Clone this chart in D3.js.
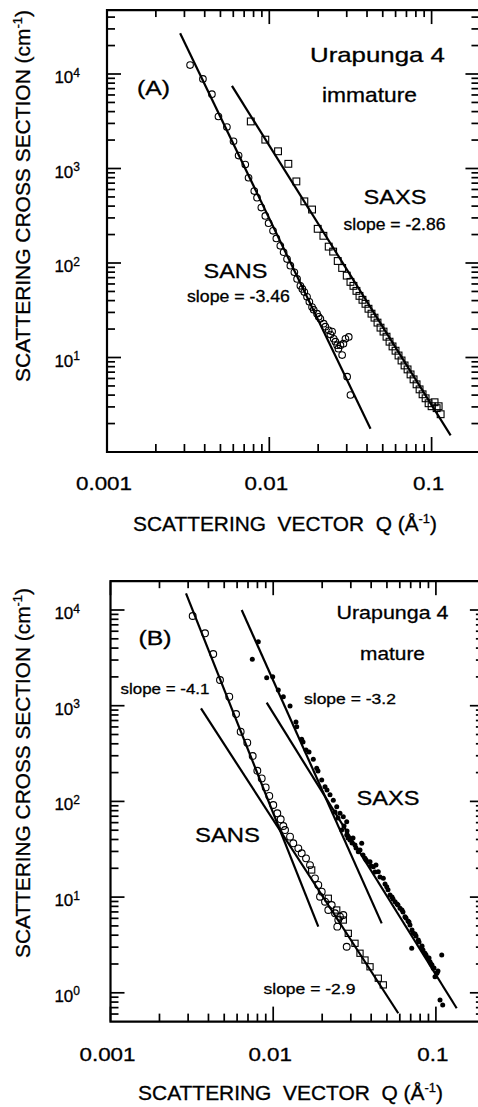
<!DOCTYPE html>
<html><head><meta charset="utf-8">
<script src="https://cdn.jsdelivr.net/npm/d3@7"></script>
<style>
html,body{margin:0;padding:0;background:#fff;}
svg{display:block;}
text{font-family:"Liberation Sans",Arial,Helvetica,sans-serif;fill:#000;stroke:#000;stroke-width:0.3px;}
</style></head><body>
<svg id="chart" width="478" height="1107"></svg>
<script>
// ---------- ticks & tick labels ----------
const xTickValues = [0.001, 0.01, 0.1];
const xTickLabels = ["0.001", "0.01", "0.1"];
const xMinorTicks = [0.002,0.003,0.004,0.005,0.006,0.007,0.008,0.009,
                     0.02,0.03,0.04,0.05,0.06,0.07,0.08,0.09];
const yMajorTicksA = [10, 100, 1000, 10000];
const yMinorTicksA = [2,3,4,5,6,7,8,9,20,30,40,50,60,70,80,90,200,300,400,500,600,700,800,900,
                      2000,3000,4000,5000,6000,7000,8000,9000,20000,30000,40000];
const yMajorTicksB = [1, 10, 100, 1000, 10000];
const yMinorTicksB = [0.6,0.7,0.8,0.9,2,3,4,5,6,7,8,9,20,30,40,50,60,70,80,90,200,300,400,500,600,700,800,900,
                      2000,3000,4000,5000,6000,7000,8000,9000];
const yExpA = [1, 2, 3, 4];
const yExpB = [0, 1, 2, 3, 4];
const yTitle = "SCATTERING CROSS SECTION (cm";
const xTitle = "SCATTERING  VECTOR  Q (Å";
const textsA = ["(A)", "Urapunga 4", "immature", "SAXS", "slope = -2.86", "SANS", "slope = -3.46"];
const textsB = ["(B)", "Urapunga 4", "mature", "slope = -4.1", "slope = -3.2", "SAXS", "SANS", "slope = -2.9"];

// ---------- panel A (immature) data: [Q (1/Å), I (1/cm)] ----------
const sansA = [
[0.00325,12440],[0.00390,8860],[0.00443,6110],[0.00486,3550],[0.00548,2750],[0.00602,1940],
[0.00647,1370],[0.00711,1100],[0.00745,798],[0.00808,577],[0.00840,491],[0.00893,386],
[0.00945,315],[0.00990,264],[0.01054,219],[0.01105,182],[0.01169,152],[0.01225,130],
[0.01286,110],[0.01348,93.7],[0.01427,79.8],[0.01483,67.9],[0.01554,57.3],[0.01598,53.2],
[0.01644,49.2],[0.01708,43.9],[0.01765,38.9],[0.01834,34.2],[0.01877,32.0],[0.01969,29.1],
[0.02015,27.0],[0.02064,25.7],[0.02163,22.8],[0.02216,21.2],[0.02323,19.4],[0.02380,17.5],
[0.02438,18.8],[0.02494,15.8],[0.02555,14.7],[0.02618,13.5],[0.02667,12.4],[0.02744,13.5],
[0.02811,10.6],[0.02945,15.8],[0.03087,16.5],[0.02862,14.0],[0.03017,6.26],[0.03162,4.01]
];
const saxsA = [
[0.00769,3147],[0.00945,2020],[0.01132,1521],[0.01310,1121],[0.01468,730],[0.01644,449],
[0.01834,368],[0.01987,230],[0.02154,194],[0.02323,149],[0.02474,132],[0.02640,105],
[0.02811,88.6],[0.03000,73.5],[0.03162,63.1],[0.03300,57.3],[0.03443,50.7],[0.03594,44.9],
[0.03750,40.8],[0.03914,37.0],[0.04084,32.8],[0.04263,29.1],[0.04448,26.4],[0.04642,23.4],
[0.04844,20.7],[0.05055,18.8],[0.05275,16.6],[0.05505,14.7],[0.05745,13.1],[0.05995,11.8],
[0.06256,10.5],[0.06528,9.30],[0.06813,8.24],[0.07110,7.48],[0.07419,6.62],[0.07743,5.87],
[0.08080,5.20],[0.08432,4.60],[0.08799,4.08],[0.09183,3.70],[0.09583,3.28],[0.1000,3.05],
[0.1043,3.36],[0.1074,2.91],[0.1137,2.51],[0.1105,3.05]
];
const sansFitA = [[0.002822,27020],[0.04203,1.759]];
const saxsFitA = [[0.005887,7475],[0.1310,1.499]];

// ---------- panel B (mature) data ----------
const sansCircB = [
[0.00320,8656],[0.00381,5707],[0.00428,3469],[0.00471,1855],[0.00537,1242],[0.00591,819],
[0.00631,535],[0.00693,411],[0.00748,298],[0.00799,209],[0.00850,174],[0.00899,140],
[0.00946,114],[0.01001,91.7],[0.01060,75.1],[0.01112,65.0],[0.01154,55.3],[0.01182,50.2],
[0.01269,42.8],[0.01329,36.5],[0.01427,32.3],[0.01497,28.7],[0.01591,25.4],[0.01683,21.6],
[0.01806,15.7],[0.01893,13.4],[0.01987,11.4],[0.01940,10.1],[0.02082,8.95],[0.02181,7.33],
[0.02288,8.27],[0.02398,6.77],[0.02512,5.76],[0.02573,6.24],[0.02697,6.50],[0.02477,4.91],
[0.02830,3.03]
];
const sansSqB = [
[0.01724,19.2],[0.02181,9.72],[0.02457,7.33],[0.02697,5.76],[0.02894,4.18],[0.03182,3.29],
[0.03416,2.59],[0.03666,2.20],[0.03936,1.87],[0.04426,1.42],[0.04751,1.21]
];
const saxsB = [
[0.00810,4666],[0.00744,3053],[0.00912,1962],[0.00993,2009],[0.01075,1459],[0.01154,1242],
[0.01269,993],[0.01395,604],[0.01497,446],[0.01591,344],[0.01764,275],[0.01851,222],
[0.01987,167],[0.02082,142],[0.02234,117],[0.02341,103],[0.02457,88.0],[0.02573,75.1],
[0.02697,69.2],[0.02830,61.4],[0.02636,50.2],[0.02830,44.6],[0.02965,39.5],[0.03182,35.0],
[0.03499,36.5],[0.03334,29.8],[0.03666,25.4],[0.03936,23.4],[0.04124,20.8],[0.04426,18.4],
[0.04751,15.7],[0.04985,12.8],[0.05224,10.5],[0.05607,8.95],[0.06017,7.64],[0.06457,6.24],
[0.06930,5.11],[0.07263,4.18],[0.07101,2.92],[0.07796,3.56],[0.08180,3.03],[0.08570,2.59],
[0.09198,2.11],[0.09638,1.80],[0.1011,1.60],[0.09874,1.47],[0.1086,2.48],[0.1060,0.841],
[0.1101,0.746],[0.02882,41.5],[0.03051,36.7],[0.03564,27.5],[0.03826,23.3],[0.04283,21.6],
[0.05077,11.9],[0.05373,10.0],[0.05848,8.27],[0.06277,6.99],[0.06736,5.63],[0.07546,3.92],
[0.08331,2.80],[0.08941,2.31],[0.09462,1.95],[0.1030,1.69],
[0.02398,77.5],[0.02502,67.1],[0.02724,55.3],[0.02842,49.1],[0.03094,41.5],[0.03228,32.6],
[0.03416,31.1],[0.03719,24.4],[0.03992,21.1],[0.04224,18.3],[0.04533,16.2],[0.04867,13.7],
[0.05450,9.55],[0.05768,8.47],[0.06188,7.33],[0.06549,6.05],[0.06834,5.49],[0.07130,4.53],
[0.07440,4.12],[0.07874,3.40],[0.08215,3.08],[0.08694,2.48],[0.09071,2.31],[0.09331,2.00],
[0.09734,1.82],[0.1016,1.61],[0.01380,675],[0.01525,418],[0.01660,328],[0.01885,208],
[0.02141,131.5]
];
const sansSteepFitB = [[0.002911,14940],[0.01893,4.91]];
const sansShallowFitB = [[0.003599,939],[0.05872,0.611]];
const saxsSteepFitB = [[0.006403,10000],[0.04645,5.32]];
const saxsShallowFitB = [[0.00912,1075],[0.1342,0.689]];

// ---------- drawing ----------
const svg = d3.select("#chart");

function fitText(parent, str, px, py, size, width) {
  const g = parent.append("g").attr("transform", `translate(${px},${py})`);
  const t = g.append("text").attr("font-size", size).attr("text-anchor", "start").text(str);
  const w = t.node().getComputedTextLength();
  if (width && w > 0) t.attr("transform", `scale(${width / w},1)`);
  return t;
}

function drawPanel(p) {
  const x = d3.scaleLog().domain(p.xDomain).range(p.xRange);
  const y = d3.scaleLog().domain(p.yDomain).range(p.yRange);
  const xl = p.xRange[0], xr = p.xRange[1], yb = p.yRange[0], yt = p.yRange[1];
  const TW = 1.7;

  const g = svg.append("g");

  // y tick labels 10^n
  p.yExp.forEach(e => {
    const t = g.append("text").attr("x", 80).attr("y", y(Math.pow(10, e)) + 9)
      .attr("text-anchor", "end").attr("font-size", 17);
    t.append("tspan").text("10");
    t.append("tspan").attr("font-size", 12).attr("dy", -6.5).text(String(e));
  });
  // x tick labels
  xTickValues.forEach((v, i) => {
    const gg = g.append("g").attr("transform", `translate(${x(v) - 3},${p.xLabelY}) scale(1.18,1)`);
    gg.append("text").attr("text-anchor", "middle").attr("font-size", 19).text(xTickLabels[i]);
  });
  // x title
  {
    const gg = g.append("g").attr("transform", `translate(${p.xTitle[0]},${p.xTitle[1]})`);
    const t = gg.append("text").attr("text-anchor", "middle").attr("font-size", 19.5)
      .style("white-space", "pre");
    t.append("tspan").text(xTitle);
    t.append("tspan").attr("font-size", 12).attr("dy", -8).text("-1");
    t.append("tspan").attr("dy", 8).text(")");
    const w = t.node().getBBox().width;
    t.attr("transform", `scale(${p.xTitle[2] / w},1)`);
  }
  // y title
  {
    const gg = g.append("g").attr("transform", `translate(29.5,${p.yTitle[0]}) rotate(-90)`);
    const t = gg.append("text").attr("text-anchor", "middle").attr("font-size", 19.5);
    t.append("tspan").text(yTitle);
    t.append("tspan").attr("font-size", 12).attr("dy", -8).text("-1");
    t.append("tspan").attr("dy", 8).text(")");
    const w = t.node().getBBox().width;
    t.attr("transform", `scale(${p.yTitle[1] / w},1)`);
  }

  // fit lines
  const lineGen = d3.line().x(q => x(q[0])).y(q => y(q[1]));
  p.fits.forEach(f => {
    g.append("path").attr("d", lineGen(f)).attr("fill", "none")
      .attr("stroke", "#000").attr("stroke-width", 2.2);
  });

  // markers
  p.circles.forEach(set => {
    g.append("g").selectAll("circle").data(set.data).join("circle")
      .attr("cx", q => x(q[0])).attr("cy", q => y(q[1])).attr("r", set.r)
      .attr("fill", "none").attr("stroke", "#000").attr("stroke-width", 1.1);
  });
  p.squares.forEach(set => {
    g.append("g").selectAll("rect").data(set.data).join("rect")
      .attr("x", q => x(q[0]) - set.s / 2).attr("y", q => y(q[1]) - set.s / 2)
      .attr("width", set.s).attr("height", set.s)
      .attr("fill", "none").attr("stroke", "#000").attr("stroke-width", 1.1);
  });
  p.dots.forEach(set => {
    g.append("g").selectAll("circle").data(set.data).join("circle")
      .attr("cx", q => x(q[0])).attr("cy", q => y(q[1])).attr("r", set.r)
      .attr("fill", "#000");
  });

  // annotations
  p.labels.forEach(l => fitText(g, l[0], l[1], l[2], l[3], l[4]));

  // ---- tick marks as thin filled rects (inward on all four sides) ----
  const tk = svg.append("g").attr("fill", "#000");
  function xTicks(vals, len) {
    tk.append("g").selectAll("rect").data(vals).join("rect")
      .attr("x", v => x(v) - TW / 2).attr("width", TW)
      .attr("y", yb - len).attr("height", len).attr("fill", "#000");
    tk.append("g").selectAll("rect").data(vals).join("rect")
      .attr("x", v => x(v) - TW / 2).attr("width", TW)
      .attr("y", yt).attr("height", len - 1).attr("fill", "#000");
  }
  function yTicks(vals, len) {
    tk.append("g").selectAll("rect").data(vals).join("rect")
      .attr("y", v => y(v) - TW / 2).attr("height", TW)
      .attr("x", xl).attr("width", len).attr("fill", "#000");
    tk.append("g").selectAll("rect").data(vals).join("rect")
      .attr("y", v => y(v) - TW / 2).attr("height", TW)
      .attr("x", xr - len - 1).attr("width", len + 1).attr("fill", "#000");
  }
  xTicks(xTickValues, 15);
  xTicks(xMinorTicks, 8);
  yTicks(p.yMajor, 14);
  yTicks(p.yMinor, 8);

  // frame
  svg.append("path").attr("d", `M${xr},${yt}H${xl}V${yb}H${xr}`)
    .attr("fill", "none").attr("stroke", "#000").attr("stroke-width", 2.2);
}

drawPanel({
  xDomain: [0.001, 0.2], xRange: [107, 107 + 162.3 * Math.log10(200)],
  yDomain: [1, 47500], yRange: [74 + 4 * 94.5, 74 - Math.log10(4.75) * 94.5],
  yMajor: yMajorTicksA, yMinor: yMinorTicksA,
  yExp: yExpA, xLabelY: 489.5,
  xTitle: [285, 530.5, 304], yTitle: [196, 372],
  fits: [sansFitA, saxsFitA],
  circles: [{data: sansA, r: 3.3}],
  squares: [{data: saxsA, s: 6.8}],
  dots: [],
  labels: [
    [textsA[0], 137, 95, 20, 33],
    [textsA[1], 310, 61.5, 20.5, 135],
    [textsA[2], 322, 101.5, 20.5, 95],
    [textsA[3], 363.5, 203.5, 20.5, 63],
    [textsA[4], 343.5, 230, 16, 102],
    [textsA[5], 203.5, 278, 20.5, 64],
    [textsA[6], 187, 301.5, 16, 103]
  ]
});

drawPanel({
  xDomain: [0.001, 0.2], xRange: [110.5, 110.5 + 162.7 * Math.log10(200)],
  yDomain: [0.5, 20000], yRange: [610 + 95.7 * (4 + Math.log10(2)), 610 - 95.7 * Math.log10(2)],
  yMajor: yMajorTicksB, yMinor: yMinorTicksB,
  yExp: yExpB, xLabelY: 1060.5,
  xTitle: [290.5, 1100, 305], yTitle: [773, 370],
  fits: [sansSteepFitB, sansShallowFitB, saxsSteepFitB, saxsShallowFitB],
  circles: [{data: sansCircB, r: 3.4}],
  squares: [{data: sansSqB, s: 6.2}],
  dots: [{data: saxsB, r: 2.5}],
  labels: [
    [textsB[0], 138.5, 645, 19.5, 33],
    [textsB[1], 336.5, 618.5, 19, 112],
    [textsB[2], 360, 660, 19, 65],
    [textsB[3], 120.5, 693.5, 15, 89],
    [textsB[4], 304, 703.5, 15, 92],
    [textsB[5], 356.5, 805, 20, 63],
    [textsB[6], 195, 841.5, 20, 65],
    [textsB[7], 263.5, 993.5, 15, 92]
  ]
});
</script>
</body></html>
